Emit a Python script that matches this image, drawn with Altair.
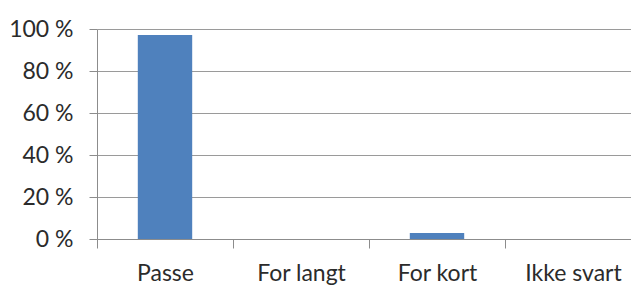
import altair as alt
import pandas as pd

categories = ["Passe", "For langt", "For kort", "Ikke svart"]
values = [97.1, 0.0, 2.8, 0.0]

df = pd.DataFrame({"kategori": categories, "andel": values})

chart = alt.Chart(df).mark_bar(color="#4f81bd").encode(
    x=alt.X("kategori:N", sort=categories, title=None,
            scale=alt.Scale(paddingInner=0.6, paddingOuter=0.3, range=[0, 544]),
            axis=alt.Axis(labelAngle=0, tickOffset=-68, labelOffset=68, tickSize=9,
                          tickColor="#8c8c8c", domainColor="#8c8c8c",
                          labelFontSize=23, labelFont="Lato", labelColor="#2b2b2b",
                          labelPadding=14, grid=False)),
    y=alt.Y("andel:Q", title=None,
            scale=alt.Scale(domain=[0, 100]),
            axis=alt.Axis(values=[0, 20, 40, 60, 80, 100],
                          labelExpr="datum.value + ' %'",
                          tickSize=8, tickColor="#8c8c8c", domainColor="#8c8c8c",
                          gridColor="#9a9a9a", labelFontSize=23, labelFont="Lato",
                          labelColor="#2b2b2b", labelPadding=16)),
).properties(
    width=534, height=210,
    autosize="none",
    padding={"left": 89, "top": 21, "right": 0, "bottom": 48},
).configure_view(stroke=None).configure_axis(gridWidth=1, domainWidth=1, tickWidth=1)

chart.save("out.html", embed_options={"renderer": "svg", "actions": False})
